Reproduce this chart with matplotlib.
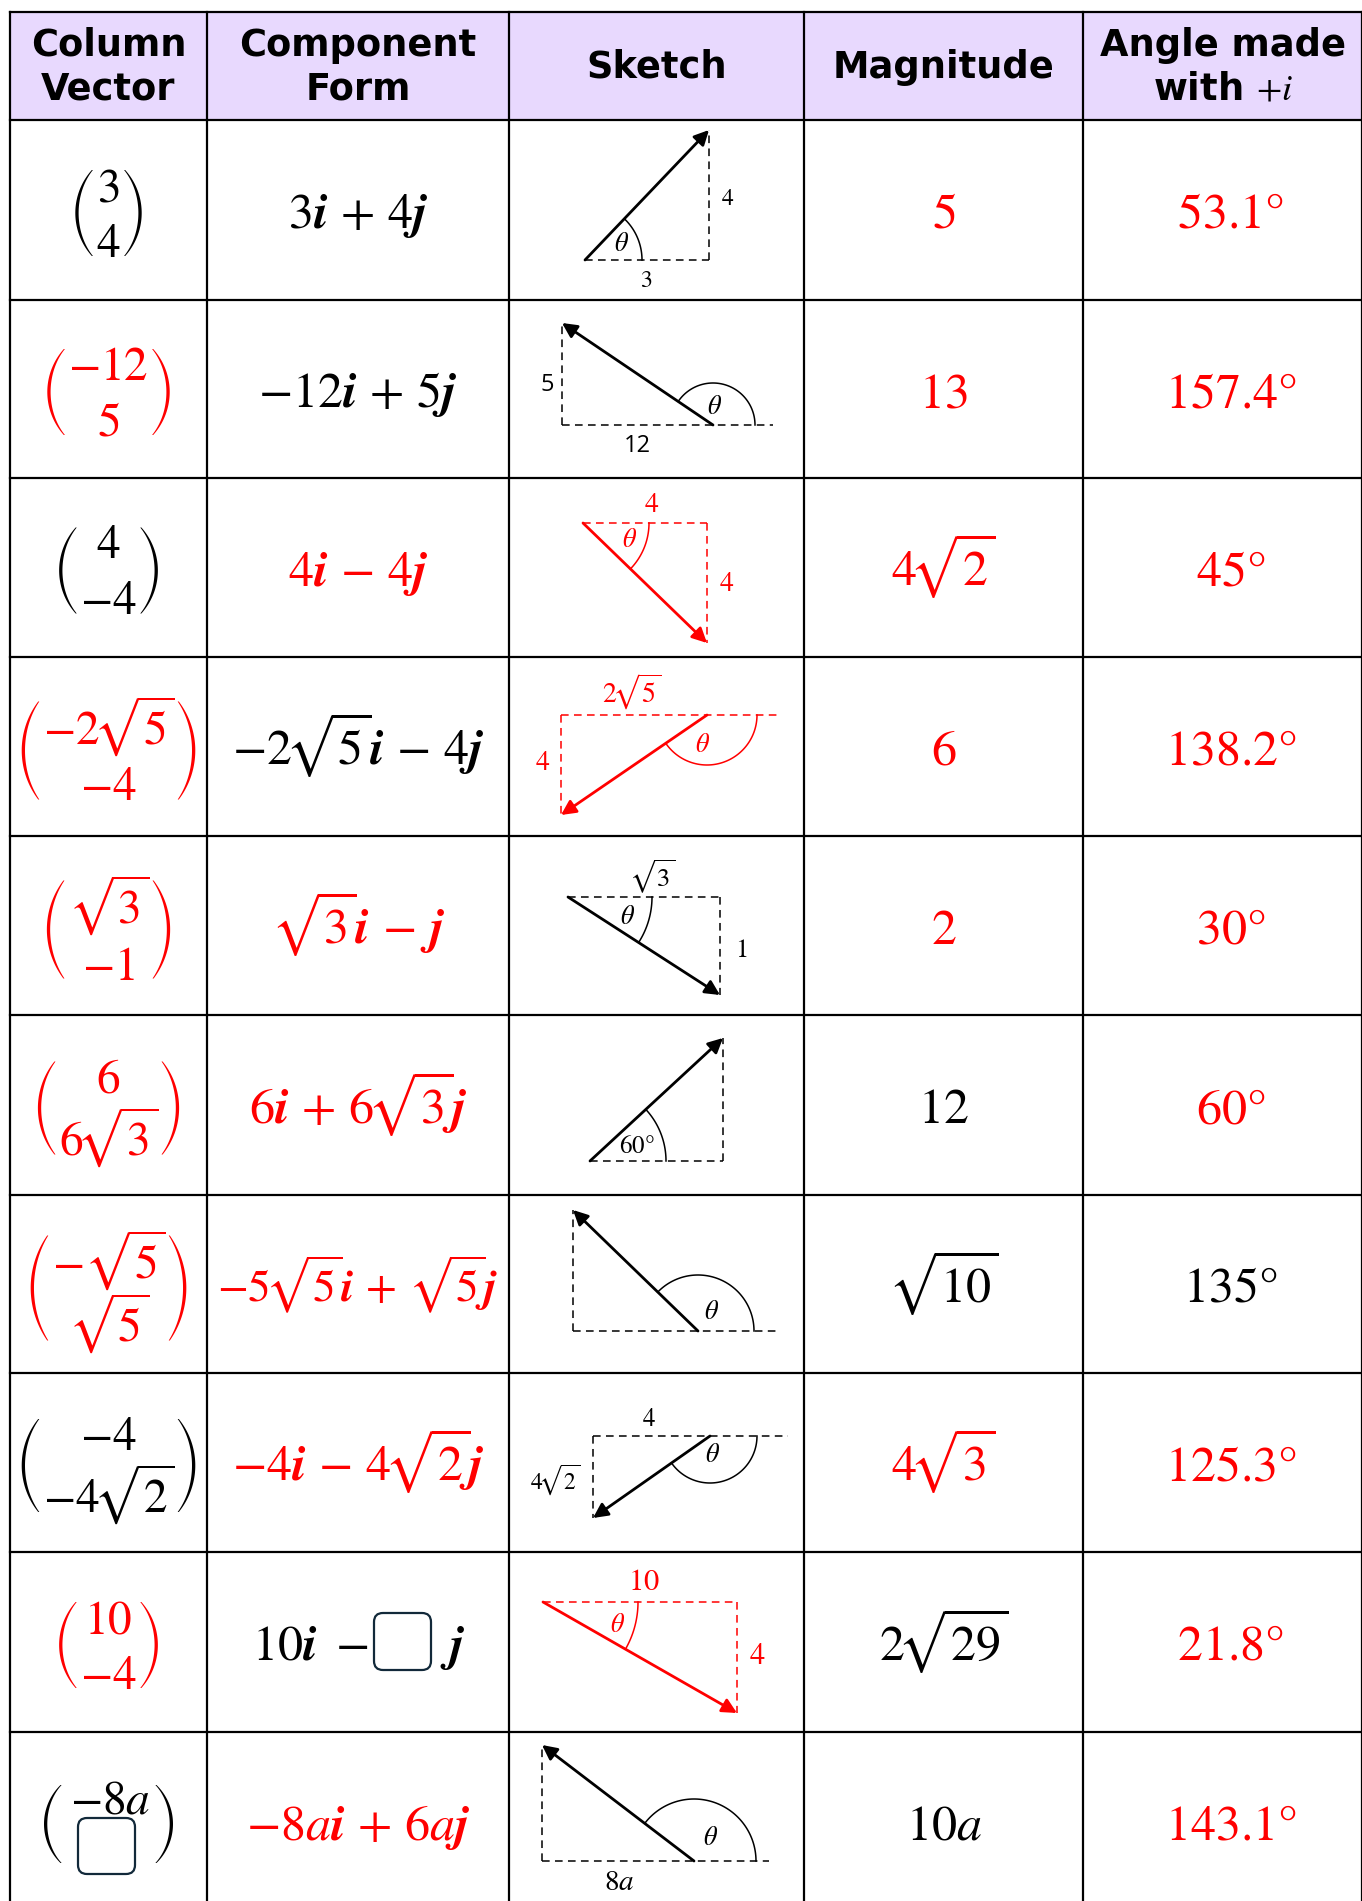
import matplotlib
matplotlib.use('Agg')
import matplotlib.pyplot as plt
import numpy as np
from matplotlib.patches import Rectangle, FancyBboxPatch
from matplotlib.mathtext import MathTextParser
from matplotlib.font_manager import FontProperties

plt.rcParams['mathtext.fontset'] = 'stix'
plt.rcParams['font.family'] = ['DejaVu Sans']

# ---------------- data ----------------
headers = ['Column\nVector', 'Component\nForm', 'Sketch', 'Magnitude', 'Angle made\nwith $+i$']

col_vec_top = ['3', '-12', '4', r'-2\sqrt{5}', r'\sqrt{3}', '6', r'-\sqrt{5}', '-4', '10', '-8a']
col_vec_bot = ['4', '5', '-4', '-4', '-1', r'6\sqrt{3}', r'\sqrt{5}', r'-4\sqrt{2}', '-4', None]
col_vec_red = [False, True, False, True, True, True, True, False, True, False]

component = ['3{I} + 4{J}', '-12{I} + 5{J}', '4{I} - 4{J}', r'-2\sqrt{5}{I} - 4{J}',
             r'\sqrt{3}{I} - {J}', r'6{I} + 6\sqrt{3}{J}', r'-5\sqrt{5}{I} + \sqrt{5}{J}',
             r'-4{I} - 4\sqrt{2}{J}', None, '-8a{I} + 6a{J}']
component_red = [False, False, True, False, True, True, True, True, False, True]

magnitude = ['5', '13', r'4\sqrt{2}', '6', '2', '12', r'\sqrt{10}', r'4\sqrt{3}', r'2\sqrt{29}', '10a']
magnitude_red = [True, True, True, True, True, False, False, True, False, False]

angle = ['53.1°', '157.4°', '45°', '138.2°', '30°', '60°', '135°', '125.3°', '21.8°', '143.1°']
angle_red = [True, True, True, True, True, True, False, True, True, True]

# sketch diagrams: tail and head of each drawn vector (pixel space of the figure)
sketch_x0 = [585, 713, 583, 707, 568, 590, 698, 710, 543, 694]
sketch_y0 = [260, 425, 523, 715, 897, 1161, 1331, 1436, 1602, 1861]
sketch_x1 = [709, 562, 707, 561, 720, 723, 573, 593, 737, 542]
sketch_y1 = [130, 323, 643, 815, 995, 1038, 1210, 1518, 1713, 1745]
sketch_ext = [0, 60, 0, 71, 0, 0, 78, 78, 0, 75]
sketch_arc_r = [57, 42, 66, 50, 84, 76, 56, 47, 95, 62]
sketch_red = [False, False, True, True, False, False, False, False, True, False]
theta_xy = [(622, 244), (715, 407), (630, 540), (703, 745), (628, 917), None,
            (712, 1312), (713, 1455), (618, 1625), (711, 1838)]
sketch_labels = [
    [('4', 728, 198, 17, 'serif'), ('3', 646, 280, 17, 'serif')],
    [('5', 547, 385, 17, 'sans'), ('12', 637, 446, 17, 'sans')],
    [('4', 652, 504, 20, 'serif'), ('4', 727, 583, 20, 'serif')],
    [(r'2\sqrt{5}', 632, 692, 20, 'serif'), ('4', 543, 762, 20, 'serif')],
    [(r'\sqrt{3}', 652, 877, 19, 'serif'), ('1', 741, 950, 19, 'serif')],
    [('60°', 637, 1146, 18, 'serif')],
    [],
    [('4', 649, 1419, 18, 'serif'), (r'4\sqrt{2}', 555, 1480, 17, 'serif')],
    [('10', 644, 1582, 22, 'serif'), ('4', 757, 1655, 22, 'serif')],
    [('8a', 619, 1882, 21, 'serif')],
]

# ---------------- layout ----------------
W, H = 1362, 1901
RED, BLK = '#FF0000', '#000000'
BOXC = '#12293a'
rows_y = [12, 120, 300, 478, 657, 836, 1015, 1195, 1373, 1552, 1732, 1911]
cols_x = [10, 207, 509, 804, 1083, 1362]
FS = 36       # body text size
FSV = 34      # column vector entry size
comp_fs = [FS, FS, FS, FS, FS, FS, 32.5, FS, FS, FS]


def pick_bold():
    p = MathTextParser('path')
    for cmd in (r'\boldsymbol', r'\mathbfit', r'\mathbf'):
        try:
            p.parse('$%s{i}$' % cmd, 72, FontProperties())
            return cmd
        except Exception:
            pass
    return r'\mathbf'

BOLD = pick_bold()
I = BOLD + '{i}'
J = BOLD + '{j}'


def mt(s):
    """turn a plain expression into mathtext with spacing closer to the original."""
    s = s.replace('{I}', I).replace('{J}', J)
    s = s.replace(' + ', r'\,+\,').replace(' - ', r'\,-\,')
    for d in '0123456789':
        s = s.replace(d + r'\sqrt', d + r'\!\sqrt')
    return '$' + s + '$'


def paren(ax, x_left, y0, y1, side, color, width=18):
    h = y1 - y0
    w = width - 1.5
    R = (h * h / 4 + w * w) / (2 * w)
    s = np.linspace(-1, 1, 120)
    yy = (y0 + y1) / 2 + s * h / 2
    dx = R - np.sqrt(R * R - (s * h / 2) ** 2)
    th = 3.3 * (1 - s ** 2) + 1.1 * s ** 2
    if side == 'left':
        outer = x_left + dx
        inner = outer + th
    else:
        outer = x_left + width - dx
        inner = outer - th
    ax.fill(np.concatenate([outer, inner[::-1]]), np.concatenate([yy, yy[::-1]]),
            color=color, lw=0, zorder=6)


fig = plt.figure(figsize=(W / 100, H / 100), dpi=100)
ax = fig.add_axes([0, 0, 1, 1])
ax.set_xlim(0, W)
ax.set_ylim(H, 0)
ax.axis('off')
renderer = fig.canvas.get_renderer()

# header background
ax.add_patch(Rectangle((cols_x[0], rows_y[0]), W - cols_x[0], rows_y[1] - rows_y[0],
                       facecolor='#E8D9FE', edgecolor='none', zorder=0))
# grid lines
for x in cols_x:
    ax.plot([x, x], [rows_y[0], H + 5], color='black', lw=1.6, zorder=5, solid_capstyle='projecting')
for y in rows_y[:-1]:
    ax.plot([cols_x[0], W + 5], [y, y], color='black', lw=1.6, zorder=5, solid_capstyle='projecting')

ccx = [(cols_x[i] + cols_x[i + 1]) / 2 for i in range(5)]
hcy = (rows_y[0] + rows_y[1]) / 2
for i, h in enumerate(headers):
    ax.text(ccx[i], hcy + 1, h, ha='center', va='center', fontsize=26.5, fontweight='bold',
            linespacing=1.22, multialignment='center', zorder=6)

for k in range(10):
    cy = (rows_y[k + 1] + rows_y[k + 2]) / 2
    base = cy + 18
    # ---- column vector ----
    col = RED if col_vec_red[k] else BLK
    top, bot = col_vec_top[k], col_vec_bot[k]
    if bot is not None:
        sq_top = 'sqrt' in top
        sq_bot = 'sqrt' in bot
        sp = 63 if sq_bot else 56
        mid = cy + (10 if sq_top else 3)
        tb = mid - sp / 2 + 16
        bb = mid + sp / 2 + 16
        t1 = ax.text(ccx[0], tb, mt(top), ha='center', va='baseline', fontsize=FSV, color=col, zorder=6)
        t2 = ax.text(ccx[0], bb, mt(bot), ha='center', va='baseline', fontsize=FSV, color=col, zorder=6)
        e1 = t1.get_window_extent(renderer)
        e2 = t2.get_window_extent(renderer)
        L = min(e1.x0, e2.x0)
        Rr = max(e1.x1, e2.x1)
        p_top = tb - 31 - (12 if sq_top else 0)
        p_bot = bb - 1
    else:
        tb = 1813
        t1 = ax.text(ccx[0] + 2, tb, mt(top), ha='center', va='baseline', fontsize=FSV, color=col, zorder=6)
        ax.add_patch(FancyBboxPatch((78, 1818), 57, 56, boxstyle='round,pad=0,rounding_size=9',
                                    facecolor='none', edgecolor=BOXC, lw=1.6, zorder=7))
        L, Rr = 65, 152
        p_top, p_bot = 1785, 1863
    paren(ax, L - 3 - 18, p_top, p_bot, 'left', col)
    paren(ax, Rr + 3, p_top, p_bot, 'right', col)

    # ---- component form ----
    if component[k] is not None:
        col = RED if component_red[k] else BLK
        ax.text(ccx[1], base, mt(component[k]), ha='center', va='baseline', fontsize=comp_fs[k],
                color=col, zorder=6)
    else:
        ax.text(368, base, mt('10{I}')[:-1] + r'\ -$', ha='right', va='baseline', fontsize=FS,
                color=BLK, zorder=6)
        ax.add_patch(FancyBboxPatch((374, 1613), 57, 57, boxstyle='round,pad=0,rounding_size=9',
                                    facecolor='none', edgecolor=BOXC, lw=1.6, zorder=7))
        ax.text(440, base, mt('{J}'), ha='left', va='baseline', fontsize=FS, color=BLK, zorder=6)
    # ---- magnitude ----
    col = RED if magnitude_red[k] else BLK
    ax.text(ccx[3], base, mt(magnitude[k]), ha='center', va='baseline', fontsize=FS, color=col, zorder=6)
    # ---- angle ----
    col = RED if angle_red[k] else BLK
    ax.text(ccx[4] + 8, base, mt(angle[k]), ha='center', va='baseline', fontsize=FS, color=col, zorder=6)

    # ---- sketch ----
    c = RED if sketch_red[k] else BLK
    x0, y0, x1, y1 = sketch_x0[k], sketch_y0[k], sketch_x1[k], sketch_y1[k]
    hx_a = min(x0, x1)
    hx_b = max(x0, x1) + sketch_ext[k]
    ax.plot([hx_a, hx_b], [y0, y0], color=c, lw=1.1, ls=(0, (5, 3.5)), zorder=6)
    ax.plot([x1, x1], [y0, y1], color=c, lw=1.1, ls=(0, (5, 3.5)), zorder=6)
    ax.annotate('', xy=(x1, y1), xytext=(x0, y0),
                arrowprops=dict(arrowstyle='-|>', color=c, lw=2.0, mutation_scale=22,
                                shrinkA=0, shrinkB=0), zorder=7)
    phi = np.arctan2(-(y1 - y0), x1 - x0)
    tt = np.linspace(0, phi, 80)
    r = sketch_arc_r[k]
    ax.plot(x0 + r * np.cos(tt), y0 - r * np.sin(tt), color=c, lw=1.1, zorder=6)
    if theta_xy[k] is not None:
        ax.text(theta_xy[k][0], theta_xy[k][1], r'$\theta$', ha='center', va='center',
                fontsize=19, color=c, zorder=8)
    for (lab, lx, ly, fs, fam) in sketch_labels[k]:
        if fam == 'sans':
            ax.text(lx, ly, lab, ha='center', va='center', fontsize=fs, color=c,
                    family='Open Sans', zorder=8)
        else:
            ax.text(lx, ly, mt(lab), ha='center', va='center', fontsize=fs, color=c, zorder=8)

fig.savefig('out.png', dpi=100, facecolor='white')
